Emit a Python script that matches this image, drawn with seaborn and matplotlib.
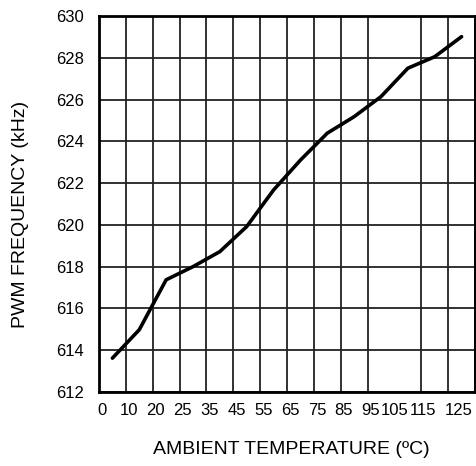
import matplotlib
matplotlib.use("Agg")
import matplotlib.pyplot as plt

import pandas as pd
import numpy as np
import seaborn as sns

# PWM frequency vs ambient temperature
# x is in grid columns (14 columns), points sit in the middle of each column
col_mid = [0.5, 1.5, 2.5, 3.5, 4.5, 5.5, 6.5, 7.5, 8.5, 9.5, 10.5, 11.5, 12.5, 13.5]
freq_khz = [613.62, 614.98, 617.37, 618.0, 618.72, 619.92, 621.67, 623.1,
            624.39, 625.18, 626.14, 627.5, 628.05, 629.01]

x_tick_labels = ["0", "10", "20", "25", "35", "45", "55", "65", "75", "85",
                 "95", "105", "115", "125"]
x_tick_pos = [0.12, 1.12, 2.12, 3.12, 4.12, 5.12, 6.12, 7.12, 8.12, 9.12,
              10.12, 11.0, 12.05, 13.4]
y_ticks = [612, 614, 616, 618, 620, 622, 624, 626, 628, 630]

sns.set_theme(style="white")
plt.rcParams["font.family"] = ["Liberation Sans", "DejaVu Sans"]
plt.rcParams["text.color"] = "black"
plt.rcParams["axes.labelcolor"] = "black"
plt.rcParams["xtick.color"] = "black"
plt.rcParams["ytick.color"] = "black"

df = pd.DataFrame({"col": col_mid, "freq": freq_khz})

fig = plt.figure(figsize=(4.77, 4.66), dpi=100)
ax = fig.add_axes([0.2075, 0.1588, 0.7883, 0.8069])

# grid lines follow the 14 columns, not the odd tick labels
ax.set_xlim(0, 14)
ax.set_ylim(612, 630)
ax.set_xticks(np.arange(0, 15), minor=True)
ax.set_xticks(x_tick_pos)
ax.set_xticklabels(x_tick_labels, fontsize=12)
ax.set_yticks(y_ticks)
ax.set_yticklabels([str(v) for v in y_ticks], fontsize=12)
ax.grid(which="minor", axis="x", color="#222222", linewidth=1.3)
ax.grid(which="major", axis="y", color="#222222", linewidth=1.3)
ax.tick_params(which="both", length=0)
ax.tick_params(axis="x", pad=8)
ax.tick_params(axis="y", pad=11)

sns.lineplot(data=df, x="col", y="freq", color="black", linewidth=2.6, ax=ax)

for s in ax.spines.values():
    s.set_visible(True)
    s.set_color("black")
    s.set_linewidth(2.0)

ax.set_xlabel("AMBIENT TEMPERATURE (ºC)", fontsize=14)
ax.set_ylabel("PWM FREQUENCY (kHz)", fontsize=14)
ax.xaxis.set_label_coords(0.5125, -0.13)
ax.yaxis.set_label_coords(-0.185, 0.471)

plt.savefig("out.png", dpi=100)
plt.close()
